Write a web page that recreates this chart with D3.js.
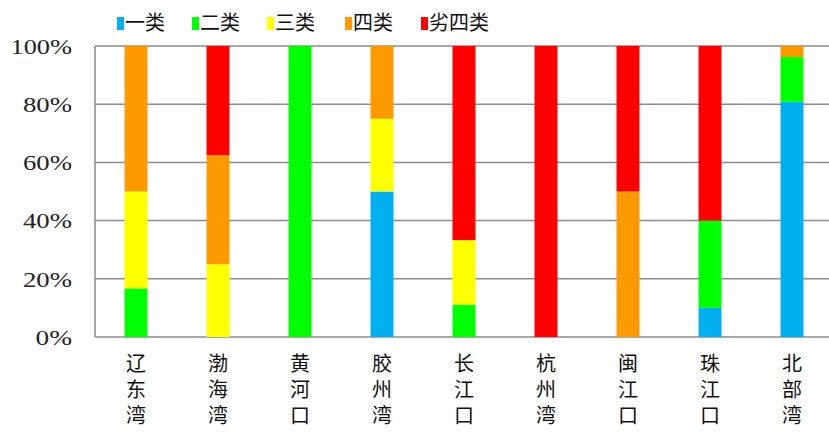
<!DOCTYPE html>
<html>
<head>
<meta charset="utf-8">
<script src="https://cdn.jsdelivr.net/npm/d3@7"></script>
<style>
  body { margin: 0; background: #fff; }
  svg { display: block; }
</style>
</head>
<body>
<svg id="chart" width="829" height="432"></svg>
<script>
// categories along the x axis
const sites = ["辽东湾", "渤海湾", "黄河口", "胶州湾", "长江口", "杭州湾", "闽江口", "珠江口", "北部湾"];
// water quality classes (stack order bottom -> top)
const classes = ["一类", "二类", "三类", "四类", "劣四类"];
const classColors = ["#00b0f0", "#00ff00", "#ffff00", "#ff9900", "#ff0000"];
// share of each class per site, %
const class1 = [0, 0, 0, 50, 0, 0, 0, 10, 80.8];
const class2 = [16.7, 0, 100, 0, 11.1, 0, 0, 30, 15.4];
const class3 = [33.3, 25, 0, 25, 22.2, 0, 0, 0, 0];
const class4 = [50, 37.5, 0, 25, 0, 0, 50, 0, 3.8];
const class5 = [0, 37.5, 0, 0, 66.7, 100, 50, 60, 0];
const yTicks = [0, 20, 40, 60, 80, 100];

const series = [class1, class2, class3, class4, class5];
const rows = sites.map((s, i) => {
  let r = { site: s };
  classes.forEach((c, k) => r[c] = series[k][i]);
  return r;
});

const svg = d3.select("#chart");
const margin = { left: 95, top: 46, right: -4, bottom: 95 };
const W = 829, H = 432;

const x = d3.scaleBand().domain(sites)
  .range([margin.left, W - margin.right]).paddingInner(0.72).paddingOuter(0.36);
const y = d3.scaleLinear().domain([0, 100]).range([H - margin.bottom, margin.top]);

// gridlines
svg.append("g").selectAll("line").data(yTicks).join("line")
  .attr("x1", margin.left).attr("x2", W)
  .attr("y1", d => y(d)).attr("y2", d => y(d))
  .attr("stroke", "#8c8c8c").attr("stroke-width", 1.5);

// left axis line
svg.append("line")
  .attr("x1", margin.left).attr("x2", margin.left)
  .attr("y1", y(0)).attr("y2", y(100))
  .attr("stroke", "#8c8c8c").attr("stroke-width", 1.5);

// stacked bars
const stack = d3.stack().keys(classes)(rows);
svg.append("g").selectAll("g").data(stack).join("g")
  .attr("fill", (d, i) => classColors[i])
  .selectAll("rect").data(d => d).join("rect")
  .attr("x", d => x(d.data.site))
  .attr("width", x.bandwidth())
  .attr("y", d => y(d[1]))
  .attr("height", d => y(d[0]) - y(d[1]));

// y tick labels (the original font is wide, so stretch a bit)
svg.append("g").selectAll("text").data(yTicks).join("text")
  .attr("x", 72).attr("y", d => y(d))
  .attr("dy", "0.35em")
  .attr("text-anchor", "end")
  .attr("font-family", "Liberation Serif, serif")
  .attr("font-size", 22)
  .attr("fill", "#222")
  .attr("textLength", d => String(d).length * 12.5 + 24)
  .attr("lengthAdjust", "spacingAndGlyphs")
  .text(d => d + "%");

// category labels, vertical writing
svg.append("g").selectAll("text").data(sites).join("text")
  .attr("x", d => x(d) + x.bandwidth() / 2)
  .attr("y", 353)
  .attr("writing-mode", "vertical-rl")
  .style("text-orientation", "upright")
  .style("letter-spacing", "6px")
  .attr("font-family", "Noto Sans CJK SC, sans-serif")
  .attr("font-size", 20)
  .attr("fill", "#111")
  .text(d => d);

// legend
const legendX = [117, 192, 267, 345, 421];
const leg = svg.append("g").selectAll("g").data(classes).join("g")
  .attr("transform", (d, i) => "translate(" + legendX[i] + ",0)");
leg.append("rect")
  .attr("x", 0).attr("y", 17).attr("width", 7).attr("height", 13)
  .attr("fill", (d, i) => classColors[i]);
leg.append("text")
  .attr("x", 8).attr("y", 23).attr("dy", "0.35em")
  .attr("font-family", "Noto Sans CJK SC, sans-serif")
  .attr("font-size", 20)
  .attr("fill", "#111")
  .text(d => d);
</script>
</body>
</html>
